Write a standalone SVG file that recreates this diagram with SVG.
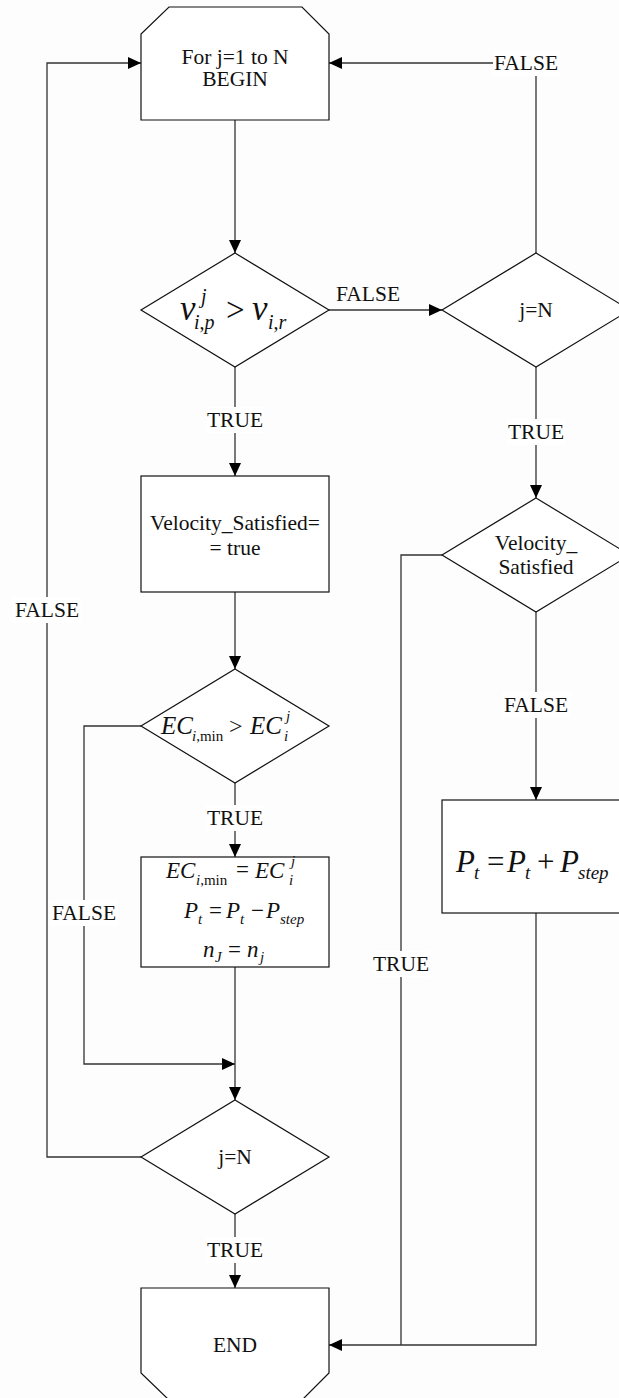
<svg xmlns="http://www.w3.org/2000/svg" width="619" height="1398" viewBox="0 0 619 1398">
<defs>
<marker id="arr" markerUnits="userSpaceOnUse" markerWidth="13" markerHeight="12" viewBox="0 0 13 12" refX="13" refY="6" orient="auto">
<path d="M0,0 L13,6 L0,12 Z" fill="#000"/>
</marker>
<style>
.shape{fill:#fff;stroke:#111;stroke-width:1.2}
.conn{fill:none;stroke:#333;stroke-width:1.3}
.lbl{font-family:"Liberation Serif","Times New Roman",serif;font-size:21.5px;fill:#111;text-anchor:middle;dominant-baseline:central}
.lblbg{fill:#fff;stroke:none}
.m{font-family:"Liberation Serif","Times New Roman",serif;fill:#111;font-style:italic}
.u{font-style:normal}
</style>
</defs>
<rect width="619" height="1398" fill="#fdfdfd"/>

<g id="connectors">
<path class="conn" d="M235,120 V253" marker-end="url(#arr)"/>
<path class="conn" d="M329,310 H442" marker-end="url(#arr)"/>
<path class="conn" d="M536,253 V63 H329" marker-end="url(#arr)"/>
<path class="conn" d="M235,367 V476" marker-end="url(#arr)"/>
<path class="conn" d="M235,592 V669" marker-end="url(#arr)"/>
<path class="conn" d="M141,726 H84 V1064 H235" marker-end="url(#arr)"/>
<path class="conn" d="M235,783 V857" marker-end="url(#arr)"/>
<path class="conn" d="M235,967 V1100" marker-end="url(#arr)"/>
<path class="conn" d="M141,1157 H47 V63 H141" marker-end="url(#arr)"/>
<path class="conn" d="M235,1214 V1288" marker-end="url(#arr)"/>
<path class="conn" d="M536,367 V498" marker-end="url(#arr)"/>
<path class="conn" d="M536,612 V800" marker-end="url(#arr)"/>
<path class="conn" d="M536,913 V1345 H329" marker-end="url(#arr)"/>
<path class="conn" d="M442,555 H401 V1345"/>
<g id="labels">
<rect class="lblbg" x="493" y="50" width="67" height="26"/>
<text class="lbl" x="526" y="63">FALSE</text>
<text class="lbl" x="368" y="294">FALSE</text>
<rect class="lblbg" x="206" y="407" width="58" height="26"/>
<text class="lbl" x="235" y="420">TRUE</text>
<rect class="lblbg" x="507" y="419" width="58" height="26"/>
<text class="lbl" x="536" y="432">TRUE</text>
<rect class="lblbg" x="12" y="597" width="69" height="26"/>
<text class="lbl" x="47" y="610">FALSE</text>
<rect class="lblbg" x="502" y="692" width="69" height="26"/>
<text class="lbl" x="536" y="705">FALSE</text>
<rect class="lblbg" x="206" y="805" width="58" height="26"/>
<text class="lbl" x="235" y="818">TRUE</text>
<rect class="lblbg" x="49" y="900" width="69" height="26"/>
<text class="lbl" x="84" y="913">FALSE</text>
<rect class="lblbg" x="372" y="951" width="58" height="26"/>
<text class="lbl" x="401" y="964">TRUE</text>
<rect class="lblbg" x="206" y="1237" width="58" height="26"/>
<text class="lbl" x="235" y="1250">TRUE</text>
</g>
</g>

<g id="start">
<polygon class="shape" points="169,7 302,7 329,34 329,120 141,120 141,34"/>
<text class="lbl" x="235" y="57">For j=1 to N</text>
<text class="lbl" x="235" y="79">BEGIN</text>
</g>

<g id="cond-velocity">
<polygon class="shape" points="235,253 329,310 235,367 141,310"/>
<text class="m" font-size="35" x="180" y="320">v</text>
<text class="m" font-size="20" x="201" y="303">j</text>
<text class="m" font-size="20" x="194" y="329">i<tspan class="u">,</tspan>p</text>
<text class="m u" font-size="33" x="226" y="321">&gt;</text>
<text class="m" font-size="35" x="252" y="320">v</text>
<text class="m" font-size="20" x="268" y="329">i<tspan class="u">,</tspan>r</text>
</g>

<g id="check-jN-right">
<polygon class="shape" points="536,253 630,310 536,367 442,310"/>
<text class="lbl" x="536" y="310">j=N</text>
</g>

<g id="velocity-satisfied-set">
<rect class="shape" x="141" y="476" width="188" height="116"/>
<text class="lbl" x="235" y="523">Velocity_Satisfied=</text>
<text class="lbl" x="235" y="548">= true</text>
</g>

<g id="velocity-satisfied-check">
<polygon class="shape" points="536,498 630,555 536,612 442,555"/>
<text class="lbl" x="536" y="543">Velocity_</text>
<text class="lbl" x="536" y="567">Satisfied</text>
</g>

<g id="cond-ec">
<polygon class="shape" points="235,669 329,726 235,783 141,726"/>
<text class="m" font-size="25" x="161" y="734">EC</text>
<text class="m" font-size="15" x="192" y="741">i<tspan class="u">,min</tspan></text>
<text class="m u" font-size="24" x="229" y="734">&gt;</text>
<text class="m" font-size="25" x="250" y="734">EC</text>
<text class="m" font-size="15" x="286" y="721">j</text>
<text class="m" font-size="15" x="284" y="741">i</text>
</g>

<g id="update-ec">
<rect class="shape" x="141" y="857" width="188" height="110"/>
<text class="m" font-size="23" x="166" y="878">EC</text>
<text class="m" font-size="15" x="196" y="885">i<tspan class="u">,min</tspan></text>
<text class="m u" font-size="23" x="236" y="877">=</text>
<text class="m" font-size="23" x="255" y="878">EC</text>
<text class="m" font-size="15" x="291" y="866">j</text>
<text class="m" font-size="15" x="289" y="885">i</text>

<text class="m" font-size="23" x="184" y="918">P</text>
<text class="m" font-size="15" x="198" y="924">t</text>
<text class="m u" font-size="23" x="209" y="918">=</text>
<text class="m" font-size="23" x="226" y="918">P</text>
<text class="m" font-size="15" x="240" y="924">t</text>
<text class="m u" font-size="23" x="251" y="918">−</text>
<text class="m" font-size="23" x="266" y="918">P</text>
<text class="m" font-size="15" x="280" y="924">step</text>

<text class="m" font-size="23" x="203" y="957">n</text>
<text class="m" font-size="15" x="215" y="962">J</text>
<text class="m u" font-size="23" x="228" y="957">=</text>
<text class="m" font-size="23" x="247" y="957">n</text>
<text class="m" font-size="15" x="260" y="962">j</text>
</g>

<g id="increase-p">
<rect class="shape" x="442" y="800" width="188" height="113"/>
<text class="m" font-size="31" x="456" y="872">P</text>
<text class="m" font-size="19" x="474" y="879">t</text>
<text class="m u" font-size="31" x="487" y="872">=</text>
<text class="m" font-size="31" x="507" y="872">P</text>
<text class="m" font-size="19" x="525" y="879">t</text>
<text class="m u" font-size="31" x="537" y="872">+</text>
<text class="m" font-size="31" x="560" y="872">P</text>
<text class="m" font-size="19" x="578" y="879">step</text>
</g>

<g id="check-jN-left">
<polygon class="shape" points="235,1100 329,1157 235,1214 141,1157"/>
<text class="lbl" x="235" y="1157">j=N</text>
</g>

<g id="end">
<polygon class="shape" points="141,1288 329,1288 329,1373 302,1400 169,1400 141,1373"/>
<text class="lbl" x="235" y="1345">END</text>
</g>
</svg>
